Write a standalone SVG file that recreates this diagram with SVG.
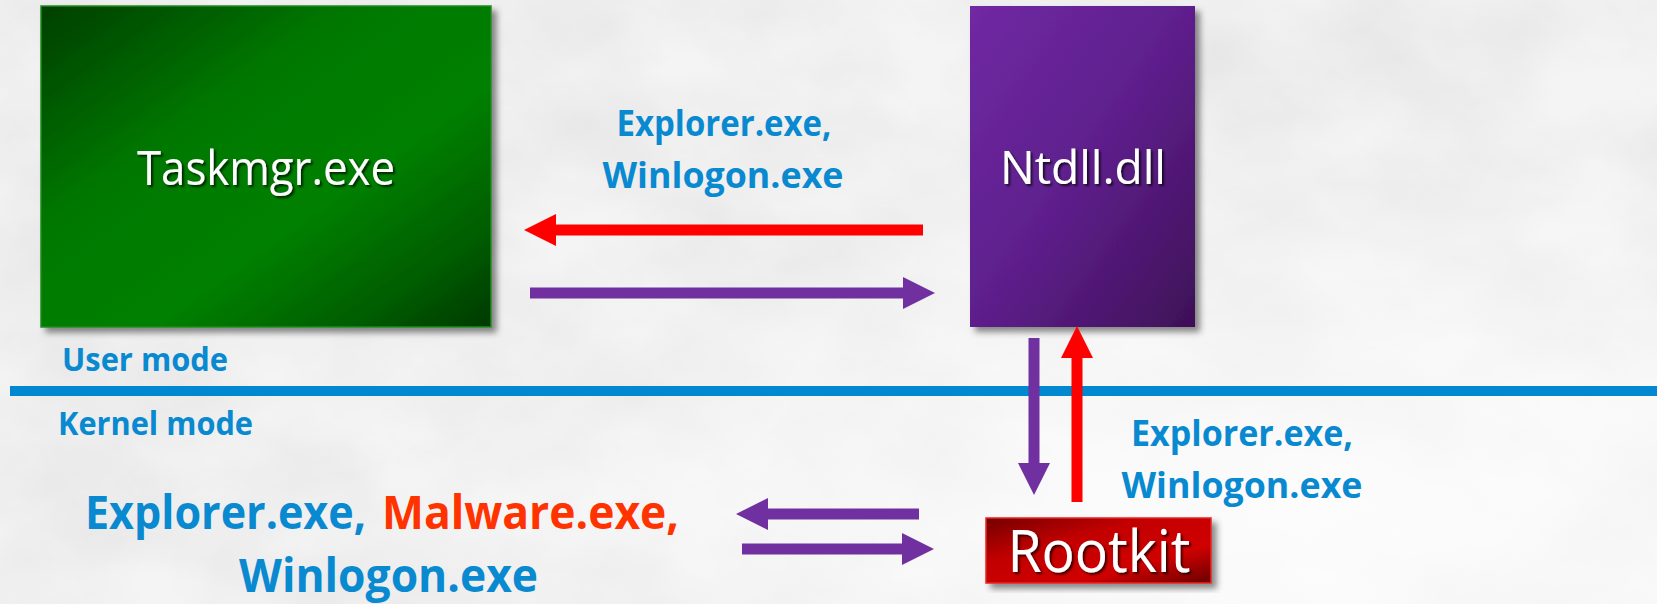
<svg xmlns="http://www.w3.org/2000/svg" width="1657" height="604" viewBox="0 0 1657 604">
  <defs>
    <style>
      .node-title { font-family: "Open Sans", "Noto Sans", sans-serif; fill: #ffffff; filter: url(#textShadow); }
      .label { font-family: "Open Sans", "Noto Sans", sans-serif; font-weight: 700; fill: #0989D0; }
      .malware { fill: #FF3300; }
      .shaft-red { stroke: #FF0000; stroke-width: 11; fill: none; }
      .shaft-purple { stroke: #7030A0; stroke-width: 11; fill: none; }
    </style>

    <!-- paper texture for the background -->
    <filter id="paper" x="0" y="0" width="100%" height="100%">
      <feTurbulence type="fractalNoise" baseFrequency="0.006 0.009" numOctaves="5" seed="7" result="noise"/>
      <feColorMatrix in="noise" type="matrix"
        values="0 0 0 0 0.55
                0 0 0 0 0.55
                0 0 0 0 0.55
                0.45 0 0 0 -0.12"/>
    </filter>
    <radialGradient id="paperLight" cx="0.8" cy="0.85" r="0.6">
      <stop offset="0" stop-color="#ffffff" stop-opacity="0.85"/>
      <stop offset="1" stop-color="#ffffff" stop-opacity="0"/>
    </radialGradient>

    <filter id="boxShadow" x="-10%" y="-10%" width="125%" height="125%">
      <feDropShadow dx="5" dy="5" stdDeviation="3" flood-color="#000000" flood-opacity="0.45"/>
    </filter>
    <filter id="textShadow" x="-10%" y="-20%" width="125%" height="150%">
      <feDropShadow dx="2" dy="2" stdDeviation="1" flood-color="#000000" flood-opacity="0.7"/>
    </filter>

    <linearGradient id="greenFill" x1="0" y1="0" x2="1" y2="1">
      <stop offset="0" stop-color="#003f00"/>
      <stop offset="0.35" stop-color="#007800"/>
      <stop offset="0.62" stop-color="#008000"/>
      <stop offset="0.85" stop-color="#005c00"/>
      <stop offset="1" stop-color="#003800"/>
    </linearGradient>
    <linearGradient id="purpleFill" x1="0" y1="0" x2="1" y2="1">
      <stop offset="0" stop-color="#7029A3"/>
      <stop offset="0.5" stop-color="#5E1F8C"/>
      <stop offset="1" stop-color="#3E1057"/>
    </linearGradient>
    <linearGradient id="redFill" x1="0" y1="0" x2="1" y2="1">
      <stop offset="0" stop-color="#740000"/>
      <stop offset="0.35" stop-color="#C20000"/>
      <stop offset="0.7" stop-color="#D00606"/>
      <stop offset="1" stop-color="#6A0000"/>
    </linearGradient>

    <marker id="headRed" markerUnits="userSpaceOnUse" markerWidth="32" markerHeight="32" refX="0" refY="16" orient="auto">
      <path d="M0,0 L32,16 L0,32 Z" fill="#FF0000"/>
    </marker>
    <marker id="headPurple" markerUnits="userSpaceOnUse" markerWidth="32" markerHeight="32" refX="0" refY="16" orient="auto">
      <path d="M0,0 L32,16 L0,32 Z" fill="#7030A0"/>
    </marker>
  </defs>

  <!-- background -->
  <rect x="0" y="0" width="1657" height="604" fill="#f4f4f4"/>
  <rect x="0" y="0" width="1657" height="604" filter="url(#paper)"/>
  <rect x="0" y="0" width="1657" height="604" fill="url(#paperLight)"/>

  <!-- user / kernel boundary -->
  <g id="boundary">
    <rect x="10" y="386" width="1647" height="10" fill="#0288D1"/>
    <text class="label" x="62" y="371" font-size="32" textLength="166" lengthAdjust="spacingAndGlyphs">User mode</text>
    <text class="label" x="58" y="435" font-size="32" textLength="195" lengthAdjust="spacingAndGlyphs">Kernel mode</text>
  </g>

  <g id="taskmgr">
    <rect x="41" y="6" width="450" height="321" fill="url(#greenFill)" stroke="#1f8a1f" stroke-width="1.5" filter="url(#boxShadow)"/>
    <text class="node-title" x="266" y="185" font-size="48" text-anchor="middle" textLength="258" lengthAdjust="spacingAndGlyphs">Taskmgr.exe</text>
  </g>

  <g id="ntdll">
    <rect x="970" y="6" width="225" height="321" fill="url(#purpleFill)" filter="url(#boxShadow)"/>
    <text class="node-title" x="1083" y="184" font-size="46" text-anchor="middle" textLength="166" lengthAdjust="spacingAndGlyphs">Ntdll.dll</text>
  </g>

  <g id="rootkit">
    <rect x="986" y="518" width="225" height="65" fill="url(#redFill)" stroke="#E82424" stroke-width="1.5" filter="url(#boxShadow)"/>
    <text class="node-title" x="1099" y="572" font-size="58" text-anchor="middle" textLength="183" lengthAdjust="spacingAndGlyphs">Rootkit</text>
  </g>

  <g id="process-list">
    <text class="label" x="85" y="529" font-size="46" textLength="281" lengthAdjust="spacingAndGlyphs">Explorer.exe,</text>
    <text class="label malware" x="382" y="529" font-size="46" textLength="297" lengthAdjust="spacingAndGlyphs">Malware.exe,</text>
    <text class="label" x="239" y="592" font-size="46" textLength="299" lengthAdjust="spacingAndGlyphs">Winlogon.exe</text>
  </g>

  <!-- connectors -->
  <g id="connectors">
    <line class="shaft-red" x1="923" y1="230" x2="556" y2="230" marker-end="url(#headRed)"/>
    <line class="shaft-purple" x1="530" y1="293" x2="903" y2="293" marker-end="url(#headPurple)"/>
    <line class="shaft-purple" x1="1034" y1="338" x2="1034" y2="463" marker-end="url(#headPurple)"/>
    <line class="shaft-red" x1="1077" y1="502" x2="1077" y2="358" marker-end="url(#headRed)"/>
    <line class="shaft-purple" x1="919" y1="514" x2="768" y2="514" marker-end="url(#headPurple)"/>
    <line class="shaft-purple" x1="742" y1="549" x2="902" y2="549" marker-end="url(#headPurple)"/>

    <text class="label" x="724" y="136" font-size="36" text-anchor="middle" textLength="215" lengthAdjust="spacingAndGlyphs">Explorer.exe,</text>
    <text class="label" x="723" y="188" font-size="36" text-anchor="middle" textLength="241" lengthAdjust="spacingAndGlyphs">Winlogon.exe</text>

    <text class="label" x="1242" y="446" font-size="36" text-anchor="middle" textLength="222" lengthAdjust="spacingAndGlyphs">Explorer.exe,</text>
    <text class="label" x="1242" y="498" font-size="36" text-anchor="middle" textLength="241" lengthAdjust="spacingAndGlyphs">Winlogon.exe</text>
  </g>
</svg>
